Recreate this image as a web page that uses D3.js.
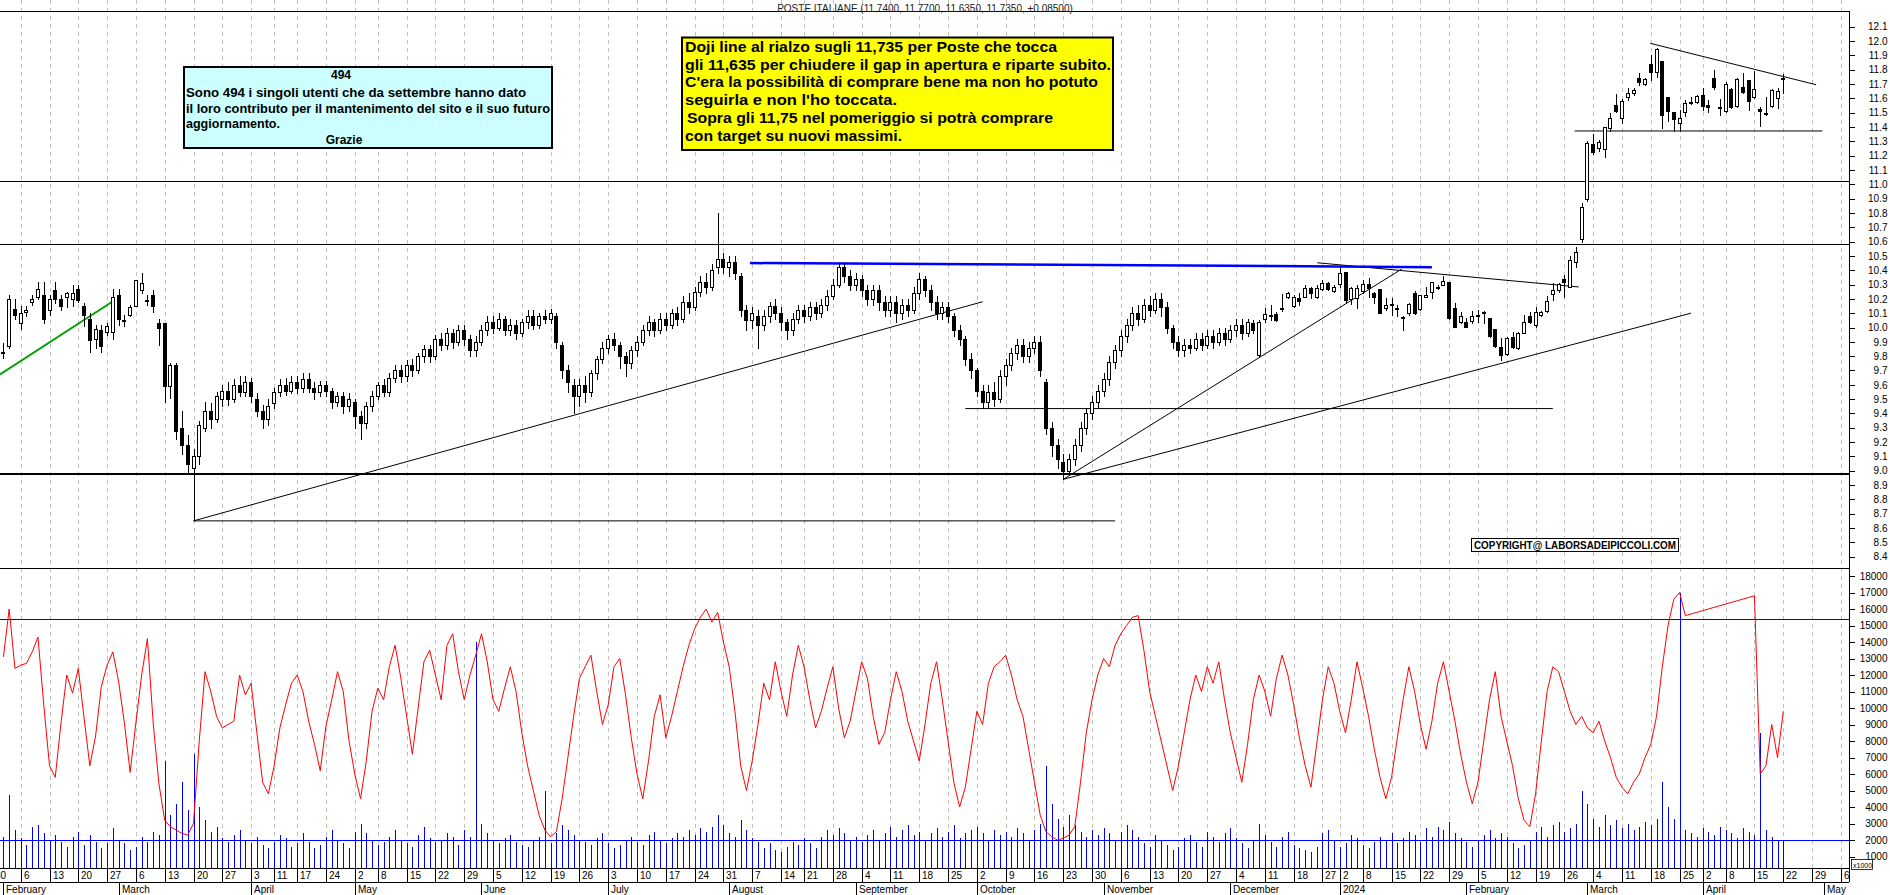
<!DOCTYPE html>
<html><head><meta charset="utf-8">
<script src="https://cdn.jsdelivr.net/npm/d3@7"></script>
<style>
body{margin:0;background:#fff}
svg{display:block}
text{font-family:"Liberation Sans",Arial,sans-serif}
</style>
</head><body>
<svg id="c" width="1890" height="895"></svg>
<script>
// ---------------- DATA ----------------
const firstDate = "2023-01-30"; // first labelled week (two days before first candle)
const holidays = ["2023-04-07","2023-04-10","2023-05-01","2023-08-15","2023-12-25","2023-12-26","2024-01-01","2024-03-29","2024-04-01"];
const title = "POSTE ITALIANE (11.7400, 11.7700, 11.6350, 11.7350, +0.08500)";

const opens = [9.82,9.87,10.13,10.03,10.11,10.18,10.21,10.23,10.12,10.26,10.20,10.21,10.20,10.27,10.15,10.06,9.92,9.98,9.97,9.97,
10.23,10.053,10.09,10.15,10.26,10.19,10.23,10.03,10.03,9.59,9.74,9.30,9.18,9.02,9.10,9.30,9.42,9.36,9.50,9.56,
9.50,9.60,9.55,9.62,9.50,9.42,9.36,9.47,9.55,9.60,9.56,9.62,9.58,9.64,9.58,9.55,9.60,9.56,9.48,9.52,
9.45,9.48,9.38,9.33,9.45,9.52,9.60,9.55,9.65,9.70,9.66,9.74,9.70,9.80,9.85,9.80,9.92,9.88,9.96,9.90,
9.98,9.92,9.84,9.90,9.98,10.04,10.00,10.06,9.98,10.02,9.96,10.04,10.08,10.02,10.08,10.06,10.08,9.88,9.70,9.60,
9.52,9.60,9.55,9.68,9.78,9.86,9.92,9.88,9.80,9.75,9.84,9.90,9.98,10.04,9.98,10.06,10.02,10.10,10.06,10.18,
10.14,10.25,10.32,10.28,10.42,10.48,10.42,10.46,10.36,10.12,10.05,10.08,10.02,10.08,10.15,10.10,10.04,9.98,10.06,10.12,
10.08,10.14,10.10,10.16,10.22,10.30,10.42,10.36,10.30,10.34,10.26,10.20,10.26,10.18,10.12,10.18,10.10,10.16,10.12,10.24,
10.34,10.26,10.18,10.10,10.14,10.08,9.98,9.92,9.78,9.70,9.56,9.48,9.55,9.50,9.66,9.74,9.82,9.88,9.80,9.86,
9.90,9.62,9.30,9.18,9.06,9.00,9.08,9.18,9.30,9.40,9.48,9.56,9.64,9.76,9.84,9.94,10.02,10.10,10.06,10.16,
10.12,10.20,10.14,10.00,9.90,9.84,9.88,9.86,9.92,9.88,9.94,9.90,9.96,9.92,9.98,10.02,9.96,10.034,9.808,10.057,
10.085,10.092,10.13,10.211,10.153,10.204,10.215,10.273,10.211,10.269,10.313,10.257,10.304,10.39,10.197,10.204,10.257,10.304,10.239,10.267,
10.138,10.162,10.134,10.076,10.104,10.239,10.129,10.211,10.25,10.285,10.297,10.32,10.134,10.04,10.036,10.045,10.088,10.111,10.064,9.987,
9.866,9.815,9.936,9.855,9.964,10.08,10.017,10.087,10.118,10.234,10.262,10.336,10.285,10.46,10.62,10.90,11.279,11.251,11.244,11.395,
11.553,11.46,11.612,11.635,11.74,11.70,11.84,11.786,11.861,11.612,11.502,11.425,11.507,11.577,11.577,11.623,11.553,11.74,11.542,11.512,
11.663,11.546,11.677,11.728,11.607,11.523,11.495,11.546,11.60,11.74];
const highs = [9.89,10.23,10.20,10.15,10.15,10.23,10.32,10.32,10.23,10.32,10.23,10.25,10.30,10.30,10.17,10.10,10.02,10.02,10.03,10.27,
10.27,10.09,10.16,10.33,10.38,10.23,10.26,10.06,10.03,9.75,9.75,9.42,9.25,9.15,9.35,9.48,9.47,9.55,9.60,9.62,
9.64,9.66,9.66,9.65,9.54,9.46,9.50,9.58,9.64,9.65,9.66,9.66,9.68,9.68,9.62,9.63,9.63,9.58,9.55,9.55,
9.54,9.50,9.42,9.48,9.56,9.62,9.64,9.68,9.74,9.74,9.77,9.78,9.82,9.88,9.88,9.95,9.96,10.00,9.99,10.02,
10.02,9.95,9.94,10.02,10.08,10.08,10.10,10.08,10.06,10.05,10.06,10.12,10.12,10.10,10.12,10.13,10.10,9.90,9.74,9.64,
9.64,9.66,9.70,9.80,9.90,9.95,9.96,9.90,9.83,9.87,9.94,10.02,10.08,10.06,10.10,10.10,10.13,10.14,10.22,10.24,
10.28,10.36,10.38,10.44,10.80,10.52,10.50,10.50,10.38,10.16,10.14,10.12,10.12,10.18,10.20,10.14,10.06,10.10,10.16,10.16,
10.18,10.18,10.20,10.26,10.34,10.45,10.45,10.40,10.38,10.37,10.30,10.30,10.30,10.22,10.22,10.22,10.20,10.20,10.28,10.38,
10.36,10.30,10.22,10.18,10.18,10.10,10.02,9.94,9.82,9.72,9.60,9.60,9.62,9.70,9.78,9.86,9.92,9.92,9.90,9.94,
9.94,9.64,9.34,9.22,9.12,9.12,9.22,9.34,9.44,9.52,9.60,9.68,9.80,9.88,9.98,10.06,10.14,10.16,10.20,10.22,
10.24,10.24,10.18,10.02,9.94,9.92,9.92,9.96,9.96,9.98,9.98,10.00,10.00,10.02,10.06,10.06,10.06,10.052,10.052,10.134,
10.157,10.111,10.232,10.25,10.227,10.239,10.297,10.285,10.297,10.332,10.32,10.297,10.42,10.39,10.285,10.297,10.332,10.343,10.25,10.267,
10.204,10.204,10.157,10.081,10.169,10.255,10.227,10.28,10.315,10.297,10.362,10.32,10.169,10.111,10.064,10.118,10.122,10.118,10.064,9.987,
9.924,9.936,9.971,9.971,10.087,10.106,10.141,10.118,10.22,10.308,10.313,10.366,10.50,10.56,10.87,11.30,11.349,11.31,11.40,11.495,
11.628,11.595,11.67,11.67,11.779,11.74,11.902,11.949,11.861,11.612,11.502,11.519,11.588,11.612,11.623,11.67,11.588,11.798,11.593,11.716,
11.67,11.744,11.774,11.728,11.793,11.542,11.612,11.663,11.67,11.77];
const lows = [9.79,9.86,10.06,9.99,10.08,10.16,10.20,10.03,10.09,10.17,10.12,10.14,10.15,10.18,10.01,9.83,9.86,9.83,9.95,9.92,
10.02,10.01,10.08,10.15,10.24,10.16,10.11,9.88,9.48,9.51,9.22,9.12,8.98,8.66,9.05,9.28,9.30,9.34,9.45,9.46,
9.48,9.52,9.52,9.48,9.38,9.30,9.32,9.44,9.52,9.53,9.54,9.54,9.55,9.55,9.50,9.52,9.52,9.44,9.45,9.40,
9.42,9.30,9.22,9.30,9.42,9.50,9.52,9.52,9.62,9.62,9.63,9.66,9.68,9.76,9.76,9.78,9.84,9.85,9.86,9.88,
9.88,9.80,9.80,9.88,9.95,9.96,9.98,9.95,9.95,9.92,9.94,10.00,9.99,10.00,10.03,10.03,9.86,9.65,9.55,9.40,
9.45,9.48,9.52,9.64,9.75,9.82,9.84,9.72,9.66,9.72,9.80,9.88,9.95,9.94,9.96,9.98,10.00,10.02,10.04,10.10,
10.12,10.22,10.24,10.26,10.38,10.38,10.36,10.34,10.08,9.98,10.00,9.86,9.98,10.04,10.06,9.98,9.92,9.95,10.03,10.04,
10.05,10.06,10.07,10.12,10.20,10.28,10.32,10.26,10.26,10.22,10.16,10.16,10.12,10.08,10.08,10.04,10.06,10.08,10.10,10.20,
10.22,10.12,10.06,10.06,10.04,9.94,9.88,9.74,9.65,9.52,9.44,9.44,9.45,9.48,9.60,9.70,9.78,9.76,9.76,9.82,
9.66,9.26,9.10,9.02,8.94,8.98,9.04,9.14,9.26,9.36,9.44,9.52,9.60,9.72,9.80,9.90,9.98,10.02,10.04,10.08,
10.10,10.08,9.96,9.86,9.80,9.80,9.82,9.84,9.84,9.86,9.86,9.88,9.88,9.90,9.94,9.92,9.94,9.959,9.796,10.04,
10.052,10.048,10.118,10.204,10.141,10.157,10.215,10.204,10.204,10.262,10.262,10.25,10.285,10.169,10.164,10.134,10.239,10.215,10.169,10.099,
10.122,10.088,10.081,9.983,10.088,10.094,10.122,10.211,10.204,10.269,10.297,10.057,10.001,10.029,10.001,10.034,10.04,10.029,9.936,9.866,
9.773,9.808,9.855,9.848,9.959,10.029,10.006,10.08,10.111,10.192,10.25,10.215,10.28,10.42,10.60,10.88,11.211,11.235,11.193,11.372,
11.507,11.43,11.588,11.623,11.693,11.693,11.728,11.751,11.391,11.444,11.372,11.372,11.477,11.561,11.565,11.519,11.507,11.663,11.484,11.507,
11.53,11.537,11.635,11.519,11.60,11.409,11.484,11.542,11.53,11.635];
const closes = [9.83,10.20,10.09,10.10,10.12,10.20,10.27,10.06,10.20,10.20,10.15,10.24,10.24,10.19,10.09,9.91,9.99,9.87,10.01,10.21,
10.06,10.048,10.14,10.33,10.31,10.19,10.15,10.00,9.59,9.74,9.28,9.18,9.05,9.10,9.32,9.42,9.36,9.52,9.56,9.50,
9.60,9.55,9.62,9.52,9.42,9.36,9.45,9.55,9.60,9.56,9.62,9.58,9.64,9.58,9.55,9.60,9.56,9.48,9.52,9.45,
9.50,9.38,9.33,9.45,9.52,9.60,9.55,9.65,9.70,9.66,9.74,9.70,9.80,9.85,9.80,9.92,9.88,9.96,9.90,9.98,
9.92,9.84,9.90,9.98,10.04,10.00,10.06,9.98,10.02,9.96,10.04,10.08,10.02,10.08,10.06,10.10,9.90,9.70,9.62,9.52,
9.60,9.55,9.68,9.78,9.86,9.92,9.88,9.80,9.75,9.84,9.90,9.98,10.04,9.98,10.06,10.02,10.10,10.06,10.18,10.14,
10.25,10.32,10.28,10.40,10.48,10.42,10.46,10.38,10.12,10.05,10.10,10.02,10.08,10.15,10.10,10.04,9.98,10.06,10.12,10.08,
10.14,10.10,10.16,10.22,10.30,10.42,10.36,10.30,10.34,10.26,10.20,10.26,10.18,10.12,10.18,10.10,10.16,10.12,10.24,10.34,
10.26,10.18,10.10,10.14,10.08,9.98,9.92,9.78,9.70,9.56,9.48,9.55,9.50,9.66,9.74,9.82,9.88,9.80,9.86,9.90,
9.70,9.30,9.18,9.08,9.00,9.08,9.18,9.30,9.40,9.48,9.56,9.64,9.76,9.84,9.94,10.02,10.10,10.06,10.16,10.12,
10.20,10.14,10.00,9.90,9.84,9.88,9.86,9.92,9.88,9.94,9.90,9.96,9.92,9.98,10.02,9.96,10.04,9.983,10.04,10.092,
10.088,10.052,10.134,10.239,10.211,10.185,10.278,10.239,10.273,10.308,10.269,10.28,10.378,10.192,10.278,10.273,10.301,10.274,10.215,10.104,
10.157,10.157,10.136,10.074,10.162,10.099,10.227,10.227,10.315,10.281,10.327,10.064,10.006,10.08,10.006,10.08,10.085,10.099,9.943,9.871,
9.808,9.924,9.866,9.959,10.041,10.041,10.111,10.111,10.185,10.262,10.301,10.315,10.47,10.53,10.84,11.29,11.228,11.293,11.398,11.465,
11.512,11.581,11.635,11.658,11.716,11.733,11.786,11.942,11.484,11.512,11.453,11.465,11.565,11.565,11.616,11.546,11.542,11.677,11.530,11.70,
11.537,11.733,11.646,11.584,11.665,11.512,11.488,11.658,11.65,11.735];

// volume (x1000) and red indicator line
const volumes = [2200,4700,2600,2100,1700,2800,2900,2400,2000,2300,1900,1600,2200,2500,1700,2300,1900,1500,1800,2700,
2000,1800,1400,1600,2200,1900,2500,2300,6800,3500,4200,5500,3800,7200,4000,3200,2500,2800,2100,1900,
2300,2600,2000,1800,2200,1700,1500,1900,2300,2100,1600,1800,2400,1900,1500,1700,2200,2600,2000,1800,
1500,2500,3000,2400,2000,1700,1900,2200,2600,2000,1800,1600,2300,2800,2100,1900,2000,2400,2200,1700,
2600,2200,14000,3000,2400,2000,1800,2100,2300,1900,1700,1600,2000,2200,5000,1800,2400,2900,2600,2300,
2000,1900,1700,2100,2400,1800,1500,1700,2000,2200,1900,1700,2300,2500,2000,1800,2100,2400,2200,2600,
2300,2700,2500,2800,3500,2900,2400,2200,3200,2600,2100,1900,1500,1800,1400,1300,1600,1900,1700,2100,
1800,1500,2200,2600,2300,2700,2400,2000,2200,1900,2300,2600,2000,2400,2800,2200,2600,2900,2300,2500,
2000,2400,2700,2200,2500,2900,2100,2400,2600,2800,2400,2000,2600,2300,2500,2200,2700,2400,2000,2600,
3000,6500,4200,3300,2800,3500,2900,2500,2200,2600,2300,2700,2400,2000,2500,2900,2600,2200,1800,1600,
2300,2000,1700,1400,1600,2100,2300,1900,1600,2500,2200,1900,2400,2700,2100,1800,1500,2000,3000,2300,
1900,1600,2200,2500,1700,1500,1400,1300,1600,2400,2600,2000,1600,1800,2300,2100,1700,1500,1900,2200,
2000,2400,1800,2100,2500,2300,1900,2700,2200,2800,2600,3100,2400,2100,1900,1600,2000,2300,2600,2100,
2400,2200,1800,1500,1700,2000,2500,2800,2200,2900,3100,2500,2700,3000,5000,4200,3300,2800,3500,2900,
3200,2700,3000,2600,2800,3100,2900,3300,5500,4000,3300,17000,2600,2400,2200,2700,2500,2300,2800,2600,
2400,2100,2700,2500,2300,8500,2600,2200,2000,2000];
const volLine = [13100,16000,12400,12600,12700,13400,14300,10200,6500,5800,9100,12000,10900,12400,9400,6500,8300,11300,12600,13400,
11600,9100,6100,9100,12000,14200,9100,5400,3200,2800,2600,2400,2300,3000,8000,12200,11000,9500,8800,9000,
9200,12000,10800,11500,8500,5500,4800,6500,8800,10200,11500,12000,11000,9200,7800,6200,8900,10500,12200,11000,
8000,6000,4500,6800,9800,11200,10500,12500,13800,11800,9500,7200,10000,12800,13500,12000,10500,13800,14500,12200,
10500,12000,13200,14500,12800,10500,9800,11200,12500,11000,8500,6500,5000,3500,2600,2200,2500,4500,7000,9500,
11800,12500,13200,11000,9000,10200,12500,13000,10800,8200,6000,4500,6800,9500,10800,8200,9500,11000,12500,13800,
14800,15500,16000,15200,15800,14000,12500,9800,6500,5000,6800,9000,11500,10500,12800,11000,9500,12000,13800,12500,
10500,8800,9800,11200,12500,10000,8200,9200,11000,12800,11800,9500,7800,8500,10500,12200,11000,9200,8000,6800,
9000,11500,12800,10500,8000,5500,4000,5200,7500,9800,9000,11500,12500,12800,13200,12000,10500,9500,7500,5500,
3500,2500,2200,2000,2100,2300,2800,5500,8500,10500,12000,13000,12500,13800,14500,15000,15500,15600,13500,11000,
9500,8000,6500,5000,6500,8500,10500,12000,11000,12500,11500,12800,10500,8500,7000,5500,7800,10500,12000,11000,
9500,11800,13200,12000,10200,8200,6500,5200,7800,10500,12500,11500,9800,8500,10500,12800,11200,9500,7500,5800,
4500,5800,8200,10500,12500,11000,9000,7500,9200,11500,12800,11000,9200,7200,5500,4200,5500,8000,10500,12200,
9500,8000,6500,4500,3200,2800,4800,8000,11000,12500,12200,11000,9800,9000,9500,8800,8500,9200,8000,7000,
5800,5200,4800,5500,6000,7000,7800,9500,12500,15000,16600,17000,15600,15700,15800,15900,16000,16100,16200,16300,
16400,16500,16600,16700,16800,6000,6500,9000,7000,9800];

const priceTicks = [8.4,8.5,8.6,8.7,8.8,8.9,9.0,9.1,9.2,9.3,9.4,9.5,9.6,9.7,9.8,9.9,10.0,10.1,10.2,10.3,10.4,10.5,10.6,10.7,10.8,10.9,11.0,11.1,11.2,11.3,11.4,11.5,11.6,11.7,11.8,11.9,12.0,12.1];
const volTicks = [1000,2000,3000,4000,5000,6000,7000,8000,9000,10000,11000,12000,13000,14000,15000,16000,17000,18000];
const monthNames = ["January","February","March","April","May","June","July","August","September","October","November","December"];

// drawn studies: [index, price] pairs
const greenLine = [[-0.6,9.673],[19.08,10.185]];
const blackLines = [
  [[33,8.65],[170,10.18]],
  [[33,8.65],[193,8.65]],
  [[167,9.434],[269,9.434]],
  [[184,8.94],[242.75,10.408]],
  [[184,8.94],[293,10.10]],
  [[228.1,10.452],[273.5,10.283]],
  [[285.9,11.984],[314.7,11.695]],
  [[272.8,11.372],[315.8,11.372]]
];
const blueLine = [[129.6,10.45],[220.6,10.43],[248,10.42]];
const levelLines = [{p:11.023,w:1},{p:10.581,w:1},{p:8.978,w:2}];
const volLevels = [15400,2000];

// ---------------- LAYOUT ----------------
const AX = 1849, TOP = 11, PB = 568, VB = 868, ROW = 882, BOT = 895;
const svg = d3.select("#c");
const x = d3.scaleLinear().domain([0,1]).range([3.42,9.18]);
const y = d3.scaleLinear().domain([8.4,12.1]).range([556.7,26.7]);
const yv = d3.scaleLinear().domain([0,18000]).range([873,576]);

// trading calendar
const days = [];
{
  let d = new Date(firstDate+"T00:00:00Z");
  const end = new Date("2024-05-07T00:00:00Z");
  while (d <= end) {
    const wd = d.getUTCDay(), s = d.toISOString().slice(0,10);
    if (wd>0 && wd<6 && !holidays.includes(s)) days.push(new Date(d));
    d.setUTCDate(d.getUTCDate()+1);
  }
}
const OFF = 2; // index of first candle in days[]
const weekKey = dt => Math.floor((dt.getTime()/86400000 + 3)/7);
const weekTicks = [], monthTicks = [];
days.forEach((dt,k) => {
  const i = k - OFF;
  if (k===0 || weekKey(dt)!==weekKey(days[k-1])) weekTicks.push({i, label: String(dt.getUTCDate())});
  if (k>0 && dt.getUTCMonth()!==days[k-1].getUTCMonth()) {
    const m = dt.getUTCMonth();
    monthTicks.push({i, label: m===0 ? String(dt.getUTCFullYear()) : monthNames[m]});
  }
});

const defs = svg.append("defs");
defs.append("clipPath").attr("id","pclip").append("rect").attr("x",0).attr("y",TOP).attr("width",AX).attr("height",PB-TOP);
defs.append("clipPath").attr("id","vclip").append("rect").attr("x",0).attr("y",PB).attr("width",AX).attr("height",VB-PB);
defs.append("clipPath").attr("id","aclip").append("rect").attr("x",0).attr("y",0).attr("width",AX).attr("height",BOT);

const px = v => Math.round(v) + 0.5;

// gridlines
svg.append("g").attr("clip-path","url(#aclip)").selectAll("line").data(weekTicks).join("line")
  .attr("x1",d=>px(x(d.i))).attr("x2",d=>px(x(d.i))).attr("y1",0).attr("y2",VB)
  .attr("stroke","#c0c0c0").attr("stroke-dasharray","4,4").attr("shape-rendering","crispEdges");

// frame lines
const frame = svg.append("g").attr("stroke","#000").attr("shape-rendering","crispEdges");
[TOP, PB, VB, ROW].forEach(v => frame.append("line").attr("x1",0).attr("x2",AX).attr("y1",v+0.5).attr("y2",v+0.5));
frame.append("line").attr("x1",AX+0.5).attr("x2",AX+0.5).attr("y1",TOP).attr("y2",ROW);

// title
svg.append("text").attr("x",925).attr("y",12).attr("text-anchor","middle").attr("font-size",10).attr("fill","#222").text(title);

// ---------- price panel ----------
const pg = svg.append("g").attr("clip-path","url(#pclip)");
levelLines.forEach(l => pg.append("line").attr("x1",0).attr("x2",AX).attr("y1",Math.round(y(l.p))+(l.w===1?0.5:0)).attr("y2",Math.round(y(l.p))+(l.w===1?0.5:0))
  .attr("stroke","#000").attr("stroke-width",l.w).attr("shape-rendering","crispEdges"));

const lineGen = d3.line().x(d=>x(d[0])).y(d=>y(d[1]));
blackLines.forEach(l => pg.append("path").attr("d",lineGen(l)).attr("fill","none").attr("stroke","#000").attr("stroke-width",1));
pg.append("path").attr("d",lineGen(blueLine)).attr("fill","none").attr("stroke","#0000ff").attr("stroke-width",2.5);
pg.append("path").attr("d",lineGen(greenLine)).attr("fill","none").attr("stroke","#00a000").attr("stroke-width",2);

const cg = pg.append("g").attr("shape-rendering","crispEdges");
closes.forEach((c,i) => {
  const o = opens[i], h = highs[i], l = lows[i];
  const cp = Math.round(x(i));
  cg.append("line").attr("x1",cp+0.5).attr("x2",cp+0.5).attr("y1",Math.round(y(h))).attr("y2",Math.round(y(l))+1).attr("stroke","#000");
  const t = Math.round(y(Math.max(o,c))), b = Math.round(y(Math.min(o,c)));
  if (c >= o) {
    cg.append("rect").attr("x",cp-1.5).attr("y",t+0.5).attr("width",3).attr("height",Math.max(b-t,1))
      .attr("fill","#fff").attr("stroke","#000");
  } else {
    cg.append("rect").attr("x",cp-2).attr("y",t).attr("width",4).attr("height",Math.max(b-t,1)+1).attr("fill","#000");
  }
});

// ---------- volume panel ----------
const vg = svg.append("g").attr("clip-path","url(#vclip)");
vg.append("g").attr("shape-rendering","crispEdges").selectAll("rect").data(volumes).join("rect")
  .attr("x",(d,i)=>Math.round(x(i))).attr("width",1)
  .attr("y",d=>Math.round(yv(d))).attr("height",d=>VB-Math.round(yv(d))).attr("fill","#0000ff");
volLevels.forEach(v => vg.append("line").attr("x1",0).attr("x2",AX).attr("y1",Math.round(yv(v))+0.5).attr("y2",Math.round(yv(v))+0.5)
  .attr("stroke","#0000ff").attr("shape-rendering","crispEdges"));
vg.append("path").attr("d",d3.line().x((d,i)=>x(i)).y(d=>yv(d))(volLine)).attr("fill","none").attr("stroke","#ff0000").attr("stroke-width",1);

// ---------- right axes ----------
function rightAxis(scale, major, minor, fmt) {
  const g = svg.append("g").attr("transform",`translate(${AX+0.5},0)`);
  g.call(d3.axisRight(scale).tickValues(minor).tickSize(2).tickFormat(""));
  g.call(d3.axisRight(scale).tickValues(major).tickSize(5).tickFormat(fmt));
  g.selectAll(".domain").remove();
  g.selectAll("text").attr("x",38).attr("text-anchor","end").attr("font-size",10)
    .attr("font-family",'"Liberation Sans",Arial,sans-serif').attr("fill","#000");
  g.selectAll("line").attr("stroke","#000").attr("shape-rendering","crispEdges");
  return g;
}
const pMinor = priceTicks.slice(0,-1).map(v=>v+0.05);
rightAxis(y, priceTicks, pMinor, d3.format(".1f"));
const vMinor = volTicks.map(v=>v+500).filter(v=>v<18000);
rightAxis(yv, volTicks, vMinor, d3.format("d"));
// x1000 box
svg.append("rect").attr("x",1851.5).attr("y",859.5).attr("width",21).attr("height",10).attr("fill","#fff").attr("stroke","#000").attr("stroke-width",0.8);
svg.append("text").attr("x",1853).attr("y",867.5).attr("font-size",7).text("x1000");

// ---------- date axis ----------
const ag = svg.append("g").attr("clip-path","url(#aclip)");
ag.selectAll("line.w").data(weekTicks).join("line").attr("class","w")
  .attr("x1",d=>px(x(d.i))).attr("x2",d=>px(x(d.i))).attr("y1",VB).attr("y2",ROW)
  .attr("stroke","#000").attr("shape-rendering","crispEdges");
ag.selectAll("text.w").data(weekTicks).join("text").attr("class","w")
  .attr("x",d=>Math.round(x(d.i))+3).attr("y",879).attr("font-size",10).text(d=>d.label);
ag.selectAll("line.m").data(monthTicks).join("line").attr("class","m")
  .attr("x1",d=>px(x(d.i))).attr("x2",d=>px(x(d.i))).attr("y1",ROW).attr("y2",BOT)
  .attr("stroke","#000").attr("shape-rendering","crispEdges");
ag.selectAll("text.m").data(monthTicks).join("text").attr("class","m")
  .attr("x",d=>Math.round(x(d.i))+3).attr("y",892.5).attr("font-size",10).text(d=>d.label);

// ---------- annotation boxes ----------
const box1 = svg.append("g");
box1.append("rect").attr("x",184).attr("y",67).attr("width",368).attr("height",81).attr("fill","#ccffff").attr("stroke","#000").attr("stroke-width",2);
const t1 = [
  {t:"494", x:341, y:79, a:"middle"},
  {t:"Sono 494 i singoli utenti che da settembre hanno dato", x:186, y:96.5, L:340},
  {t:"il loro contributo per il mantenimento del sito e il suo futuro", x:186, y:112.5, L:364},
  {t:"aggiornamento.", x:186, y:127.5, L:94},
  {t:"Grazie", x:344, y:144, a:"middle"}
];
t1.forEach(d => { const e = box1.append("text").attr("x",d.x).attr("y",d.y).attr("font-size",12).attr("font-weight","bold")
  .attr("text-anchor",d.a||"start").text(d.t); if (d.L) e.attr("textLength",d.L).attr("lengthAdjust","spacingAndGlyphs"); });

const box2 = svg.append("g");
box2.append("rect").attr("x",682).attr("y",37.5).attr("width",431).attr("height",112.5).attr("fill","#ffff00").attr("stroke","#000").attr("stroke-width",2);
const t2 = [
  {t:"Doji line al rialzo sugli 11,735 per Poste che tocca", x:685, y:52, L:372},
  {t:"gli 11,635 per chiudere il gap in apertura e riparte subito.", x:685, y:70, L:426},
  {t:"C'era la possibilità di comprare bene ma non ho potuto", x:685, y:87, L:413},
  {t:"seguirla e non l'ho toccata.", x:685, y:104.5, L:212},
  {t:"Sopra gli 11,75 nel pomeriggio si potrà comprare", x:687, y:122.5, L:366},
  {t:"con target su nuovi massimi.", x:685, y:140.5, L:217}
];
t2.forEach(d => box2.append("text").attr("x",d.x).attr("y",d.y).attr("font-size",14).attr("font-weight","bold")
  .attr("textLength",d.L).attr("lengthAdjust","spacingAndGlyphs").text(d.t));

svg.append("rect").attr("x",1471.5).attr("y",538.5).attr("width",207).attr("height",13).attr("fill","#fff").attr("stroke","#000");
svg.append("text").attr("x",1474).attr("y",549).attr("font-size",10).attr("font-weight","bold")
  .attr("textLength",202).attr("lengthAdjust","spacingAndGlyphs").text("COPYRIGHT@ LABORSADEIPICCOLI.COM");
</script>
</body></html>
